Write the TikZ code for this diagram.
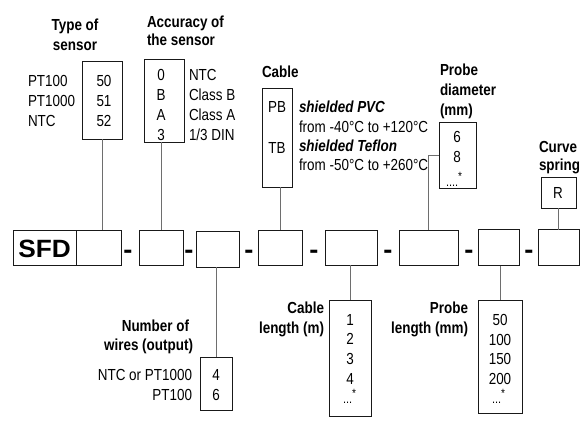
\documentclass[tikz,border=0pt]{standalone}
\usepackage{fontspec}
\setmainfont{Liberation Sans}[FakeStretch=0.84]
\newfontfamily\sfdfont{Liberation Sans}[FakeStretch=1.05]
\definecolor{conncol}{RGB}{110,110,110}
\definecolor{boxcol}{RGB}{25,25,25}
\newcommand{\starmark}{\raisebox{6pt}{\fontsize{12}{12}\selectfont *}}
\tikzset{
  cell/.style={draw=boxcol, line width=0.8pt, inner sep=0pt, outer sep=0pt},
  conn/.style={draw=conncol, line width=1pt},
  lbl/.style={inner sep=0pt, outer sep=0pt, font=\fontsize{16}{19}\selectfont},
  ttl/.style={inner sep=0pt, outer sep=0pt, font=\fontsize{16}{19}\selectfont\bfseries},
  dots/.style={inner sep=0pt, outer sep=0pt, anchor=base west, font=\fontsize{13}{15}\selectfont},
  dsh/.style={inner sep=0pt, outer sep=0pt, anchor=base, font=\sfdfont\fontsize{26}{26}\selectfont\bfseries},
}
\begin{document}
\begin{tikzpicture}[x=1pt,y=-1pt]
\useasboundingbox (0,0) rectangle (586,432);

% ---- main row ----
\node[cell, minimum width=63pt, minimum height=35pt] (sfd) at (44.5,247.5) {};
\node[inner sep=0pt, anchor=base, font=\sfdfont\fontsize{25}{25}\selectfont\bfseries] (sfdtxt) at (44.5,257) {SFD};
\node[cell, minimum width=45pt, minimum height=35pt] (b1) at (98.5,247.5) {};
\node[cell, minimum width=44pt, minimum height=35pt] (b2) at (161,247.5) {};
\node[cell, minimum width=43pt, minimum height=36pt] (b3) at (217.5,249) {};
\node[cell, minimum width=44pt, minimum height=35pt] (b4) at (280,247.5) {};
\node[cell, minimum width=52pt, minimum height=35pt] (b5) at (351,247.5) {};
\node[cell, minimum width=59pt, minimum height=35pt] (b6) at (428.5,247.5) {};
\node[cell, minimum width=41pt, minimum height=36pt] (b7) at (498.5,247.5) {};
\node[cell, minimum width=41pt, minimum height=36pt] (b8) at (558.5,247.5) {};

\node[dsh] (d1) at (128,258.5) {-};
\node[dsh] (d2) at (189,258.5) {-};
\node[dsh] (d3) at (249,258.5) {-};
\node[dsh] (d4) at (314,258.5) {-};
\node[dsh] (d5) at (388,258.5) {-};
\node[dsh] (d6) at (469,258.5) {-};
\node[dsh] (d7) at (529,258.5) {-};

% ---- type of sensor ----
\node[ttl, anchor=base] (tt1) at (75,30) {Type of};
\node[ttl, anchor=base] (tt2) at (75,50) {sensor};
\node[cell, minimum width=40pt, minimum height=78pt] (tbox) at (102,100) {};
\node[lbl, anchor=base] (t50) at (104,86) {50};
\node[lbl, anchor=base] (t51) at (104,106) {51};
\node[lbl, anchor=base] (t52) at (104,126) {52};
\node[lbl, anchor=base west] (tl1) at (28,86) {PT100};
\node[lbl, anchor=base west] (tl2) at (28,106) {PT1000};
\node[lbl, anchor=base west] (tl3) at (28,126) {NTC};
\draw[conn] (tbox.south) -- (tbox.south |- b1.north);

% ---- accuracy ----
\node[ttl, anchor=base west] (at1) at (147,27) {Accuracy of};
\node[ttl, anchor=base west] (at2) at (147,45) {the sensor};
\node[cell, minimum width=40pt, minimum height=83pt] (acc) at (164,100.5) {};
\node[lbl, anchor=base] (a0) at (161,80) {0};
\node[lbl, anchor=base] (aB) at (161,100) {B};
\node[lbl, anchor=base] (aA) at (161,120) {A};
\node[lbl, anchor=base] (a3) at (161,140) {3};
\node[lbl, anchor=base west] (al1) at (189,80) {NTC};
\node[lbl, anchor=base west] (al2) at (189,100) {Class B};
\node[lbl, anchor=base west] (al3) at (189,120) {Class A};
\node[lbl, anchor=base west] (al4) at (189,140) {1/3 DIN};
\draw[conn] (b2.north) -- (b2.north |- acc.south);

% ---- cable ----
\node[ttl, anchor=base west] (ct) at (262,77) {Cable};
\node[cell, minimum width=30pt, minimum height=99pt] (cab) at (277,137.5) {};
\node[lbl, anchor=base] (cPB) at (277,112) {PB};
\node[lbl, anchor=base] (cTB) at (277,153) {TB};
\node[lbl, anchor=base west, font=\fontsize{16}{19}\selectfont\bfseries\itshape] (cl1) at (299,112) {shielded PVC};
\node[lbl, anchor=base west] (cl2) at (299,132) {from -40°C to +120°C};
\node[lbl, anchor=base west, font=\fontsize{16}{19}\selectfont\bfseries\itshape] (cl3) at (299,151) {shielded Teflon};
\node[lbl, anchor=base west] (cl4) at (299,170) {from -50°C to +260°C};
\draw[conn] (b4.north) -- (b4.north |- cab.south);

% ---- probe diameter ----
\node[ttl, anchor=base west] (pt1) at (440,75) {Probe};
\node[ttl, anchor=base west] (pt2) at (440,95) {diameter};
\node[ttl, anchor=base west] (pt3) at (440,115) {(mm)};
\node[cell, minimum width=37pt, minimum height=66pt] (pd) at (457.5,155) {};
\node[lbl, anchor=base] (p6) at (457,142) {6};
\node[lbl, anchor=base] (p8) at (457,162) {8};
\node[dots] (pdots) at (446,186) {....\starmark};
\draw[conn] (b6.north) |- (pd.west);

% ---- curve spring ----
\node[ttl, anchor=base west] (cs1) at (539,152) {Curve};
\node[ttl, anchor=base west] (cs2) at (539,170) {spring};
\node[cell, minimum width=35pt, minimum height=31pt] (cs) at (558.5,192.5) {};
\node[lbl, anchor=base] (cR) at (558,198) {R};
\draw[conn] (cs.south) -- (cs.south |- b8.north);

% ---- number of wires ----
\node[ttl, anchor=base east] (w1) at (189,331) {Number of};
\node[ttl, anchor=base east] (w2) at (193,350) {wires (output)};
\node[cell, minimum width=32pt, minimum height=53pt] (wb) at (216,383.5) {};
\node[lbl, anchor=base] (w4) at (216,380) {4};
\node[lbl, anchor=base] (w6) at (216,400) {6};
\node[lbl, anchor=base east] (wl1) at (192,380) {NTC or PT1000};
\node[lbl, anchor=base east] (wl2) at (192,400) {PT100};
\draw[conn] (wb.north |- b3.south) -- (wb.north);

% ---- cable length ----
\node[ttl, anchor=base east] (l1) at (324,313) {Cable};
\node[ttl, anchor=base east] (l2) at (324,333) {length (m)};
\node[cell, minimum width=42pt, minimum height=116pt] (cl) at (350,358) {};
\node[lbl, anchor=base] (c1) at (350,325) {1};
\node[lbl, anchor=base] (c2) at (350,344) {2};
\node[lbl, anchor=base] (c3) at (350,364) {3};
\node[lbl, anchor=base] (c4) at (350,384) {4};
\node[dots] (cdots) at (343,403) {...\starmark};
\draw[conn] (cl.north |- b5.south) -- (cl.north);

% ---- probe length ----
\node[ttl, anchor=base east] (q1) at (468,313) {Probe};
\node[ttl, anchor=base east] (q2) at (468,333) {length (mm)};
\node[cell, minimum width=44pt, minimum height=113pt] (pl) at (500,356.5) {};
\node[lbl, anchor=base] (q50) at (500,325) {50};
\node[lbl, anchor=base] (q100) at (500,345) {100};
\node[lbl, anchor=base] (q150) at (500,364) {150};
\node[lbl, anchor=base] (q200) at (500,384) {200};
\node[dots] (qdots) at (492,403) {...\starmark};
\draw[conn] (pl.north |- b7.south) -- (pl.north);
\end{tikzpicture}
\end{document}
